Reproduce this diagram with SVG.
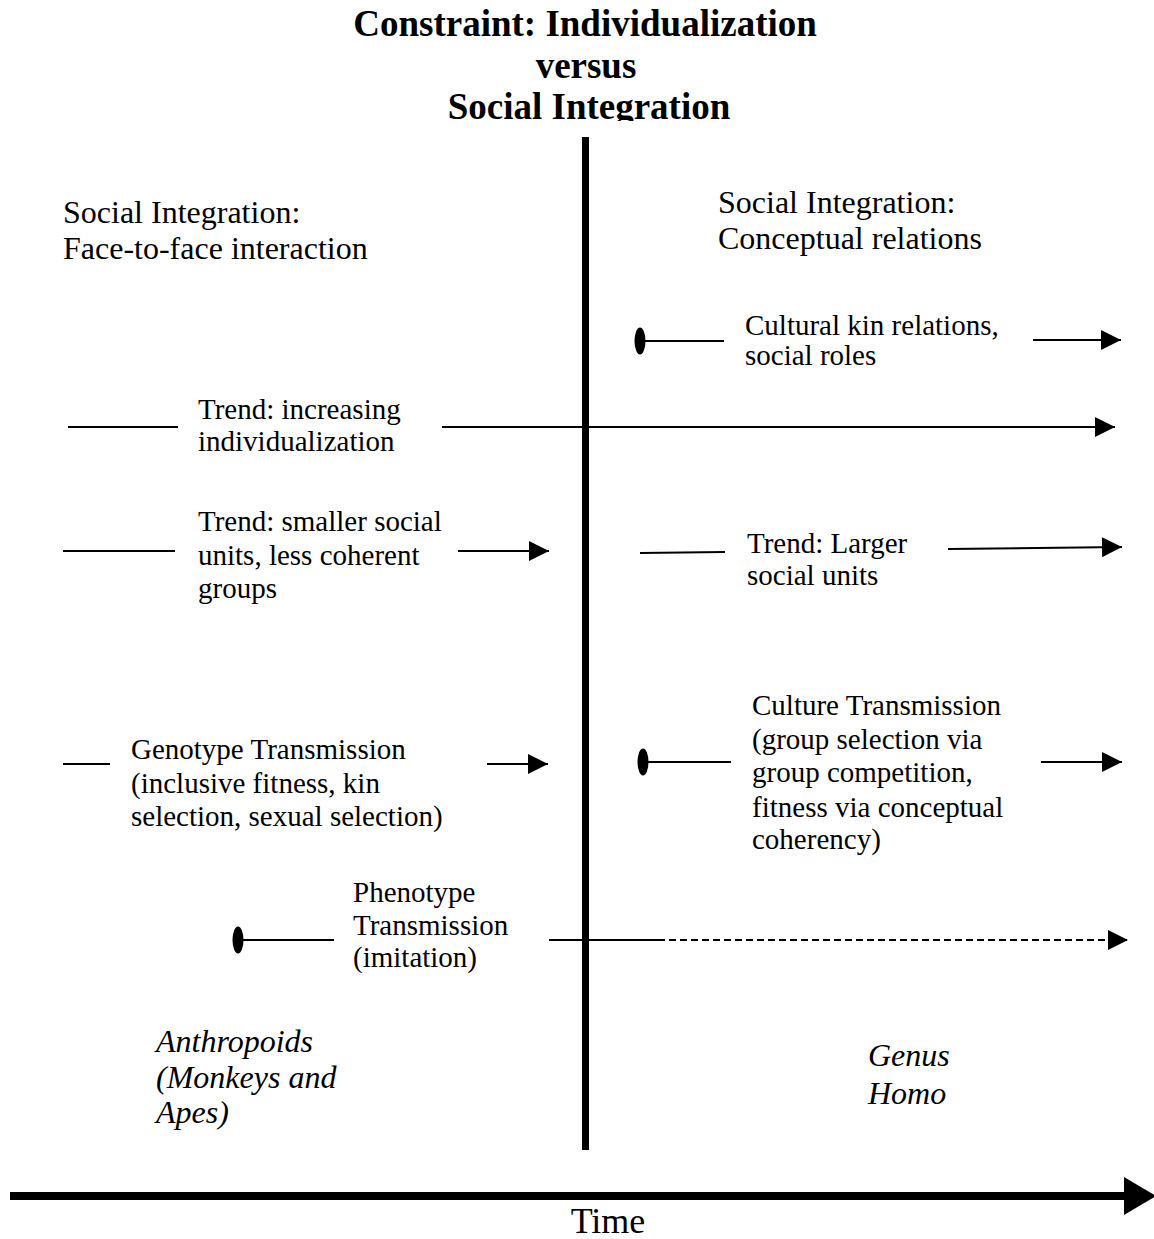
<svg xmlns="http://www.w3.org/2000/svg" width="1154" height="1239" viewBox="0 0 1154 1239">
<style>
text{font-family:"Liberation Serif","Times New Roman",serif;fill:#000}
.title{font-size:37px;font-weight:bold;text-anchor:middle}
.head{font-size:32px}
.body{font-size:29px}
.it{font-size:32px;font-style:italic}
.time{font-size:36px;text-anchor:middle}
.ln{stroke:#000;stroke-width:2;fill:none}
.dash{stroke-dasharray:7 4}
</style>
<defs>
<marker id="arr" viewBox="0 0 20 20" refX="20" refY="10" markerWidth="20" markerHeight="20" markerUnits="userSpaceOnUse" orient="auto">
<path d="M0,0 L20,10 L0,20 Z" fill="#000"/>
</marker>
<marker id="dot" viewBox="0 0 12 28" refX="6" refY="14" markerWidth="12" markerHeight="28" markerUnits="userSpaceOnUse" orient="auto">
<ellipse cx="6" cy="14" rx="5.5" ry="13.5" fill="#000"/>
</marker>
<clipPath id="titleclip"><rect x="0" y="0" width="1154" height="121"/></clipPath>
</defs>
<rect width="1154" height="1239" fill="#fff"/>

<g id="title" clip-path="url(#titleclip)">
<text class="title" x="585" y="36">Constraint: Individualization</text>
<text class="title" x="586" y="78">versus</text>
<text class="title" x="589" y="119">Social Integration</text>
</g>

<g id="divider">
<line x1="585.5" y1="137" x2="585.5" y2="1150" stroke="#000" stroke-width="7"/>
</g>

<g id="header-left">
<text class="head" x="63" y="223">Social Integration:</text>
<text class="head" x="63" y="259">Face-to-face interaction</text>
</g>
<g id="header-right">
<text class="head" x="718" y="213">Social Integration:</text>
<text class="head" x="718" y="249">Conceptual relations</text>
</g>

<g id="node-cultural-kin">
<text class="body" x="745" y="335">Cultural kin relations,</text>
<text class="body" x="745" y="365">social roles</text>
</g>
<g id="node-trend-individualization">
<text class="body" x="198" y="419">Trend: increasing</text>
<text class="body" x="198" y="451">individualization</text>
</g>
<g id="node-trend-smaller">
<text class="body" x="198" y="531">Trend: smaller social</text>
<text class="body" x="198" y="565">units, less coherent</text>
<text class="body" x="198" y="598">groups</text>
</g>
<g id="node-trend-larger">
<text class="body" x="747" y="553">Trend: Larger</text>
<text class="body" x="747" y="585">social units</text>
</g>
<g id="node-genotype">
<text class="body" x="131" y="759">Genotype Transmission</text>
<text class="body" x="131" y="793">(inclusive fitness, kin</text>
<text class="body" x="131" y="826">selection, sexual selection)</text>
</g>
<g id="node-culture">
<text class="body" x="752" y="715">Culture Transmission</text>
<text class="body" x="752" y="749">(group selection via</text>
<text class="body" x="752" y="782">group competition,</text>
<text class="body" x="752" y="817">fitness via conceptual</text>
<text class="body" x="752" y="849">coherency)</text>
</g>
<g id="node-phenotype">
<text class="body" x="353" y="902">Phenotype</text>
<text class="body" x="353" y="935">Transmission</text>
<text class="body" x="353" y="967">(imitation)</text>
</g>
<g id="node-anthropoids">
<text class="it" x="156" y="1052">Anthropoids</text>
<text class="it" x="156" y="1088">(Monkeys and</text>
<text class="it" x="156" y="1123">Apes)</text>
</g>
<g id="node-homo">
<text class="it" x="868" y="1066">Genus</text>
<text class="it" x="868" y="1104">Homo</text>
</g>
<g id="node-time">
<text class="time" x="608" y="1233">Time</text>
</g>

<g id="connectors">
<line class="ln" x1="640" y1="341" x2="724" y2="341" marker-start="url(#dot)"/>
<line class="ln" x1="1033" y1="340" x2="1121" y2="340" marker-end="url(#arr)"/>
<line class="ln" x1="68" y1="427" x2="178" y2="427"/>
<line class="ln" x1="442" y1="427" x2="1115" y2="427" marker-end="url(#arr)"/>
<line class="ln" x1="63" y1="551" x2="175" y2="551"/>
<line class="ln" x1="458" y1="551" x2="549" y2="551" marker-end="url(#arr)"/>
<line class="ln" x1="640" y1="553" x2="725" y2="552"/>
<line class="ln" x1="948" y1="549" x2="1122" y2="547" marker-end="url(#arr)"/>
<line class="ln" x1="63" y1="764" x2="110" y2="764"/>
<line class="ln" x1="487" y1="764" x2="548" y2="764" marker-end="url(#arr)"/>
<line class="ln" x1="643" y1="762" x2="731" y2="762" marker-start="url(#dot)"/>
<line class="ln" x1="1041" y1="762" x2="1122" y2="762" marker-end="url(#arr)"/>
<line class="ln" x1="238" y1="940" x2="334" y2="940" marker-start="url(#dot)"/>
<line class="ln" x1="549" y1="940" x2="658" y2="940"/>
<line class="ln dash" x1="658" y1="940" x2="1128" y2="940" marker-end="url(#arr)"/>
<line x1="10" y1="1196" x2="1128" y2="1196" stroke="#000" stroke-width="8"/>
<polygon points="1124,1177 1156,1196 1124,1215" fill="#000"/>
</g>
</svg>
